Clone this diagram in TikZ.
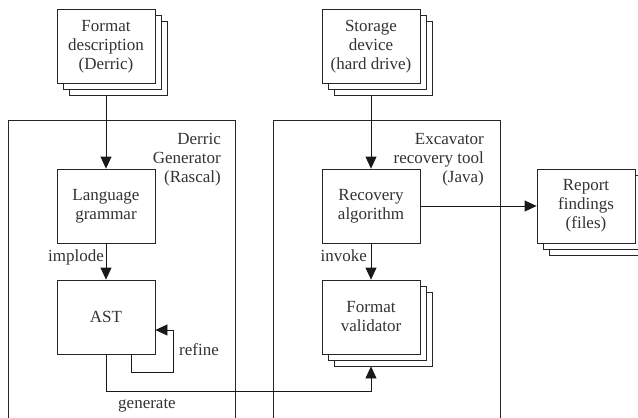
\documentclass[tikz,border=0pt]{standalone}
\usepackage{fontspec}
\setmainfont{Liberation Serif}
\usetikzlibrary{arrows.meta,calc}
\begin{document}
\begin{tikzpicture}[x=1pt,y=-1pt,
 box/.style={draw=black!85,fill=white,line width=0.8pt,minimum width=98pt,minimum height=74pt,inner sep=0pt,align=center,text=black!80,font=\fontsize{17}{19}\selectfont},
 lbl/.style={inner sep=0pt,text=black!80,font=\fontsize{17}{19}\selectfont},
 arr/.style={-{Triangle[length=12pt,width=11pt]},draw=black!90,line width=0.8pt},
 frame/.style={draw=black!85,line width=0.8pt}]
\useasboundingbox (0,0) rectangle (638,418);
\clip (0,0) rectangle (638,418);
% frames
\draw[frame] (8,120) rectangle (235,440);
\draw[frame] (273,120) rectangle (500,440);
\node[lbl,align=right,anchor=north east] (dg) at (221,133) {Derric\\Generator\\(Rascal)};
\node[lbl,align=right,anchor=north east] (ex) at (484,133) {Excavator\\recovery tool\\(Java)};
% stacked boxes
\node[box] (fd3) at (118,58.5) {};
\node[box] (fd2) at (112,52.5) {};
\node[box] (fd) at (106,46.5) {Format\\description\\(Derric)};
\node[box] (sd3) at (383,58.5) {};
\node[box] (sd2) at (377,52.5) {};
\node[box] (sd) at (371,46.5) {Storage\\device\\(hard drive)};
\node[box] (rf3) at (598,218) {};
\node[box] (rf2) at (592,212) {};
\node[box] (rf) at (586,206) {Report\\findings\\(files)};
\node[box] (fv3) at (383,329) {};
\node[box] (fv2) at (377,323) {};
\node[box] (fv) at (371,317) {Format\\validator};
% single boxes
\node[box] (lg) at (106,206) {Language\\grammar};
\node[box] (ast) at (106,317) {AST};
\node[box] (ra) at (371,206) {Recovery\\algorithm};
% connectors
\draw[arr] (fd.south |- fd3.south) -- (lg.north);
\draw[arr] (lg.south) -- (ast.north);
\draw[arr] ([xshift=25pt]ast.south) -- ++(0,18) -- ++(42,0) |- ([yshift=-13pt]ast.east);
\draw[arr] (ast.south) -- ++(0,37) -| (fv.south |- fv3.south);
\draw[arr] (sd.south |- sd3.south) -- (ra.north);
\draw[arr] (ra.south) -- (fv.north);
\draw[arr] (ra.east) -- (rf.west);
% labels
\node[lbl,anchor=base east] (limp) at (104,261) {implode};
\node[lbl,anchor=base east] (linv) at (367,261) {invoke};
\node[lbl,anchor=base west] (lref) at (179,355) {refine};
\node[lbl,anchor=base] (lgen) at (147,408) {generate};
\end{tikzpicture}
\end{document}
